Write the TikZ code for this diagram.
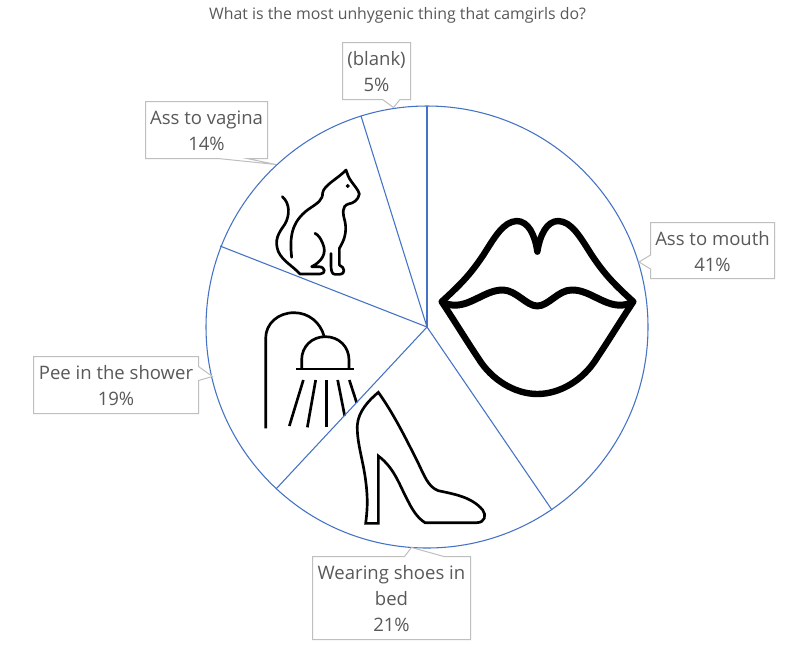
\documentclass[tikz,border=0pt]{standalone}
\usepackage{fontspec}
\setmainfont{Open Sans}
\definecolor{piec}{HTML}{4472C4}
\definecolor{boxc}{HTML}{BFBFBF}
\definecolor{txtc}{HTML}{595959}
\tikzset{
  spoke/.style={draw=piec,line width=0.8pt},
  callout/.style={draw=boxc,fill=white,line width=0.75pt,line join=miter},
  lab/.style={text=txtc,font=\fontsize{13.9pt}{19.5pt}\selectfont,align=center,inner sep=0pt},
  ttl/.style={text=txtc,font=\fontsize{11.9pt}{14pt}\selectfont,inner sep=0pt},
  ico/.style={draw=black,line width=2pt,line cap=round,line join=round},
}
\begin{document}
\begin{tikzpicture}[x=0.75pt,y=-0.75pt]
\useasboundingbox (0,0) rectangle (805,647);
\fill[white] (0,0) rectangle (805,647);
\node[ttl] (title) at (397.5,15) {What is the most unhygenic thing that camgirls do?};

% icons
\begin{scope}[shift={(420,200)},x=0.25pt,y=-0.25pt]
  \draw[ico,line width=4.8pt,fill=white]
    (65,305) .. controls (120,255) and (150,225) .. (190,165)
    .. controls (225,110) and (250,65) .. (290,63)
    .. controls (325,63) and (345,105) .. (352,155)
    .. controls (360,105) and (380,63) .. (415,63)
    .. controls (455,65) and (480,110) .. (515,165)
    .. controls (555,225) and (585,255) .. (640,305)
    .. controls (600,365) and (570,415) .. (530,475)
    .. controls (490,540) and (420,582) .. (352,582)
    .. controls (285,582) and (215,540) .. (175,475)
    .. controls (135,415) and (105,365) .. (65,305) -- cycle;
  \draw[ico,line width=5.2pt]
    (75,310) .. controls (140,335) and (190,268) .. (250,270)
    .. controls (290,272) and (320,318) .. (352,318)
    .. controls (385,318) and (415,270) .. (455,270)
    .. controls (515,268) and (565,335) .. (630,310);
\end{scope}

\begin{scope}[shift={(250,150)},x=0.25pt,y=-0.25pt]
  \draw[ico]
    (125,322) .. controls (118,260) and (125,215) .. (175,178)
    .. controls (205,158) and (218,150) .. (218,128)
    .. controls (222,105) and (265,85) .. (288,60)
    .. controls (292,68) and (292,75) .. (298,85)
    .. controls (310,105) and (325,118) .. (328,132)
    .. controls (325,150) and (310,160) .. (295,162)
    .. controls (275,168) and (278,190) .. (285,215)
    .. controls (292,250) and (280,275) .. (268,295)
    -- (268,345) .. controls (285,352) and (288,372) .. (268,373)
    -- (255,373) .. controls (245,373) and (243,360) .. (243,345) -- (243,310);
  \draw[ico]
    (97,140) .. controls (120,160) and (120,195) .. (105,222)
    .. controls (85,250) and (72,270) .. (85,305)
    .. controls (100,335) and (125,345) .. (150,372)
    -- (210,372) .. controls (228,372) and (228,350) .. (205,350) -- (185,350)
    .. controls (215,335) and (232,310) .. (218,280)
    .. controls (212,265) and (205,255) .. (195,250);
  \draw[black,fill=black] (293,108) circle (5.2);
\end{scope}

\begin{scope}[shift={(250,300)},x=0.25pt,y=-0.25pt]
  \draw[ico,line cap=butt]
    (47,385) -- (47,115) .. controls (47,70) and (85,38) .. (132,38)
    .. controls (178,38) and (212,70) .. (222,108);
  \draw[ico,line cap=butt]
    (155,205) -- (155,180) .. controls (155,140) and (185,110) .. (226,110)
    .. controls (267,110) and (297,140) .. (297,180) -- (297,205);
  \draw[ico,line cap=butt] (139,207) -- (312,207);
  \draw[ico,line cap=butt] (160,240) -- (118,378);
  \draw[ico,line cap=butt] (197,240) -- (172,382);
  \draw[ico,line cap=butt] (230,240) -- (230,382);
  \draw[ico,line cap=butt] (263,240) -- (284,347);
  \draw[ico,line cap=butt] (298,240) -- (320,308);
\end{scope}

\begin{scope}[shift={(350,380)},x=0.25pt,y=-0.25pt]
  \draw[ico,line join=miter]
    (85,37) .. controls (55,62) and (25,95) .. (22,135)
    .. controls (20,190) and (40,240) .. (48,310)
    .. controls (54,360) and (52,390) .. (47,430)
    -- (85,430) -- (85,228)
    .. controls (135,265) and (150,320) .. (175,365)
    .. controls (190,395) and (205,415) .. (225,428)
    -- (380,428) .. controls (405,428) and (410,405) .. (398,390)
    .. controls (365,350) and (310,342) .. (265,332)
    .. controls (235,322) and (222,285) .. (205,250)
    .. controls (165,170) and (130,100) .. (85,37) -- cycle;
\end{scope}

% pie
\coordinate (c) at (427,327);
\coordinate (s1) at (427,106);
\coordinate (s2) at (552,510);
\coordinate (s3) at (276,489);
\coordinate (s4) at (220,246);
\coordinate (s5) at (361,116);
\draw[spoke] (c) circle[x radius=221,y radius=221];
\foreach \s in {s2,s3,s4,s5} \draw[spoke] (c) -- (\s);
\draw[spoke,line width=1.2pt] (c) -- (s1);

% callouts
\draw[callout] (650.5,222.5) -- (774.5,222.5) -- (774.5,278.5) -- (650.5,278.5) -- (650.5,269) -- (639,262) -- (650.5,255) -- cycle;
\draw[callout] (342.5,42.5) -- (410.5,42.5) -- (410.5,99.5) -- (400,99.5) -- (393.5,107.5) -- (382.5,99.5) -- (342.5,99.5) -- cycle;
\draw[callout] (145.5,101.5) -- (267.5,101.5) -- (267.5,158.5) -- (247,158.5) -- (276,164.5) -- (218,158.5) -- (145.5,158.5) -- cycle;
\draw[callout] (312.5,556.5) -- (404.5,556.5) -- (411.5,547.5) -- (444,556.5) -- (470.5,556.5) -- (470.5,639.5) -- (312.5,639.5) -- cycle;
\draw[callout] (33.5,356.5) -- (198.5,356.5) -- (198.5,366.5) -- (212.5,376.5) -- (198.5,380.5) -- (198.5,413.5) -- (33.5,413.5) -- cycle;

\node[lab] (mouth) at (712.5,251.5) {Ass to mouth\\41\%};
\node[lab] (blank) at (376.5,72) {(blank)\\5\%};
\node[lab] (vagina) at (206.5,131) {Ass to vagina\\14\%};
\node[lab] (shoes) at (391.5,599) {Wearing shoes in\\bed\\21\%};
\node[lab] (shower) at (116,386) {Pee in the shower\\19\%};
\end{tikzpicture}
\end{document}
